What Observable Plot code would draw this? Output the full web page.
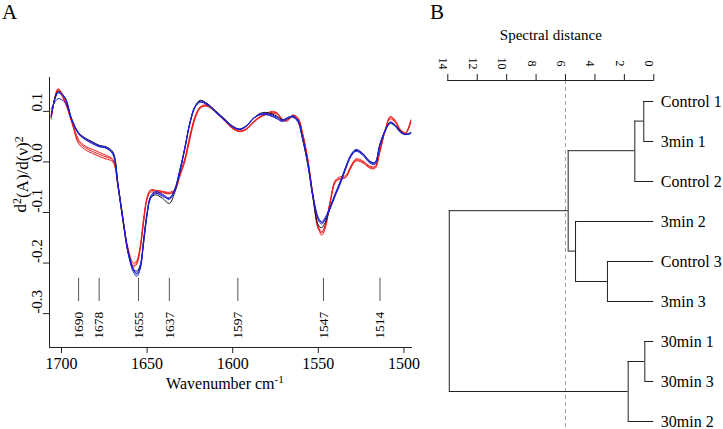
<!DOCTYPE html>
<html>
<head>
<meta charset="utf-8">
<script src="https://cdn.jsdelivr.net/npm/d3@7"></script>
<script src="https://cdn.jsdelivr.net/npm/@observablehq/plot@0.6"></script>
<style>
  html, body { margin: 0; padding: 0; background: #fff; }
  #wrap { position: relative; width: 723px; height: 429px; overflow: hidden; font-family: "Liberation Serif", "Times New Roman", serif; }
  .panel { position: absolute; top: 0; }
  .tag { position: absolute; top: 0px; font-size: 21px; line-height: 24px; color: #000; }
  svg { overflow: visible; }
</style>
</head>
<body>
<div id="wrap">
  <div id="pa" class="panel" style="left:0px"></div>
  <div id="pb" class="panel" style="left:425px"></div>
  <div class="tag" style="left:2px">A</div>
  <div class="tag" style="left:430px">B</div>
</div>
<script>
// ---------- Panel A data ----------
const wavenumbers = [1706,1702,1698,1694,1690,1686,1682,1678,1674,1670,1667,1664,1661,1658,1656,1654,1652,1650,1648,1645,1641,1637,1634,1631,1628,1625,1622,1619,1615,1610,1605,1600,1596,1592,1588,1584,1581,1577,1574,1571,1568,1565,1562,1559,1556,1553,1550,1548,1546,1543,1540,1537,1534,1531,1528,1524,1520,1517,1514,1511,1508,1505,1502,1499,1496];

const red1 = [0.088,0.143,0.120,0.080,0.036, 0.024,0.017,0.011,0.006,0.000, -0.050,-0.120,-0.180,-0.205,-0.198, -0.170,-0.115,-0.072,-0.057,-0.057, -0.059,-0.062,-0.058,-0.030,0.000, 0.045,0.085,0.106,0.112,0.100, 0.083,0.066,0.060,0.064,0.077, 0.088,0.093,0.098,0.096,0.083, 0.081,0.092,0.088,0.055,0.003, -0.068,-0.130,-0.145,-0.132,-0.080, -0.040,-0.032,-0.030,-0.012,0.002, -0.002,-0.012,-0.013,0.020,0.062, 0.088,0.080,0.062,0.057,0.082];
const red2 = [0.092,0.140,0.118,0.078,0.040, 0.028,0.021,0.015,0.010,0.003, -0.048,-0.118,-0.178,-0.208,-0.202, -0.172,-0.118,-0.073,-0.060,-0.060, -0.061,-0.063,-0.057,-0.026,0.004, 0.050,0.088,0.107,0.110,0.098, 0.082,0.066,0.061,0.066,0.079, 0.090,0.094,0.096,0.094,0.082, 0.083,0.090,0.085,0.050,-0.002, -0.072,-0.133,-0.140,-0.126,-0.076, -0.038,-0.034,-0.031,-0.010,0.004, 0.000,-0.010,-0.011,0.024,0.064, 0.085,0.078,0.061,0.056,0.078];
const red3 = [0.085,0.145,0.122,0.082,0.044, 0.031,0.025,0.019,0.013,0.005, -0.046,-0.116,-0.172,-0.200,-0.195, -0.165,-0.110,-0.070,-0.055,-0.056, -0.058,-0.060,-0.055,-0.024,0.006, 0.052,0.090,0.109,0.113,0.101, 0.084,0.067,0.061,0.065,0.079, 0.089,0.095,0.100,0.097,0.085, 0.083,0.093,0.086,0.052,0.001, -0.070,-0.128,-0.138,-0.125,-0.078, -0.036,-0.029,-0.027,-0.008,0.006, 0.002,-0.008,-0.009,0.022,0.061, 0.090,0.082,0.064,0.058,0.083];
const black1 = [0.090,0.140,0.127,0.085,0.058, 0.047,0.040,0.033,0.030,0.020, -0.043,-0.113,-0.178,-0.212,-0.216, -0.204,-0.152,-0.100,-0.072,-0.065, -0.072,-0.082,-0.062,-0.022,0.026, 0.078,0.110,0.122,0.116,0.101, 0.086,0.071,0.065,0.071,0.086, 0.096,0.098,0.095,0.090,0.084, 0.086,0.089,0.080,0.042,-0.008, -0.075,-0.125,-0.130,-0.120,-0.090, -0.062,-0.038,-0.010,0.013,0.023, 0.016,0.001,-0.002,0.034,0.062, 0.079,0.073,0.061,0.055,0.058];
const blue1 = [0.090,0.138,0.128,0.082,0.056, 0.045,0.039,0.032,0.029,0.018, -0.045,-0.115,-0.178,-0.212,-0.222, -0.208,-0.155,-0.102,-0.070,-0.061, -0.066,-0.074,-0.058,-0.020,0.025, 0.075,0.108,0.120,0.115,0.100, 0.085,0.070,0.064,0.070,0.085, 0.095,0.096,0.093,0.088,0.083, 0.087,0.090,0.082,0.045,-0.005, -0.070,-0.115,-0.123,-0.115,-0.090, -0.065,-0.040,-0.012,0.012,0.023, 0.015,0.000,-0.003,0.035,0.062, 0.078,0.072,0.060,0.055,0.058];
const blue2 = [0.105,0.125,0.118,0.084,0.057, 0.046,0.038,0.031,0.028,0.016, -0.047,-0.117,-0.182,-0.218,-0.226, -0.212,-0.160,-0.106,-0.072,-0.062, -0.068,-0.072,-0.055,-0.018,0.027, 0.077,0.108,0.118,0.113,0.098, 0.083,0.069,0.064,0.071,0.086, 0.093,0.094,0.091,0.086,0.081, 0.088,0.089,0.080,0.042,-0.008, -0.072,-0.112,-0.118,-0.110,-0.087, -0.062,-0.037,-0.010,0.014,0.025, 0.017,0.002,-0.001,0.036,0.062, 0.076,0.070,0.058,0.054,0.056];
const blue3 = [0.092,0.136,0.126,0.084,0.055, 0.044,0.036,0.030,0.027,0.015, -0.048,-0.118,-0.182,-0.214,-0.220, -0.205,-0.158,-0.102,-0.068,-0.058, -0.064,-0.071,-0.056,-0.018,0.028, 0.078,0.110,0.119,0.114,0.099, 0.084,0.069,0.065,0.072,0.086, 0.094,0.094,0.090,0.085,0.080, 0.085,0.091,0.083,0.046,-0.004, -0.068,-0.110,-0.120,-0.113,-0.092, -0.066,-0.042,-0.014,0.010,0.021, 0.013,-0.002,-0.005,0.032,0.060, 0.077,0.071,0.059,0.054,0.057];

const seriesNames  = ["red1","red2","red3","black1","blue1","blue2","blue3"];
const seriesValues = [red1, red2, red3, black1, blue1, blue2, blue3];
const seriesColors = ["#ee1a1a","#ee1a1a","#ee1a1a","#111111","#1f1fd0","#1f1fd0","#1f1fd0"];

const xTicksA = [1700,1650,1600,1550,1500];
const yTicksA = [0.1,0.0,-0.1,-0.2,-0.3];
const xDomainA = [1707,1495];
const yDomainA = [-0.367,0.167];
const peaks = [1690,1678,1655,1637,1597,1547,1514];
const peakTickTop = [-0.230];
const peakTickBottom = [-0.276];
const peakLabelLevel = [-0.323];
const xLabelA = "Wavenumber cm-1";
const yLabelA = "d2(A)/d(ν)2";

// ---------- Panel B data ----------
const leafLabels = ["Control 1","3min 1","Control 2","3min 2","Control 3","3min 3","30min 1","30min 3","30min 2"];
// hclust-style merges: negative = leaf (1-based order position), positive = earlier merge row
const mergeA = [-1, 1, -5, -4, 2, -7, 6, 5];
const mergeB = [-2, -3, -6, 3, 4, -8, -9, 7];
const mergeHeight = [0.68, 1.29, 3.15, 5.32, 5.82, 0.61, 1.74, 13.9];
const mergePosition = [0.49, 1.23, 4.5, 3.74, 2.73, 6.5, 7.25, 4.9];
const distTicks = [14,12,10,8,6,4,2,0];
const cutHeight = [6];
const yDomainB = [-0.525, 8.2];
const distTitle = "Spectral distance";

const FONT = '"Liberation Serif","Times New Roman",serif';

// ----- Panel A -----
const rows = [];
seriesNames.forEach((s, k) => seriesValues[k].forEach((v, i) => rows.push({series: s, wn: wavenumbers[i], val: v, color: seriesColors[k]})));

const lineMarks = seriesNames.map((s, k) =>
  Plot.line(rows.filter(r => r.series === s), {x: "wn", y: "val", stroke: seriesColors[k], strokeWidth: 1, curve: "catmull-rom"})
);

const plotA = Plot.plot({
  width: 425, height: 429,
  marginLeft: 49, marginRight: 13, marginTop: 77, marginBottom: 82,
  style: {fontFamily: FONT, fontSize: "15px", color: "#000", background: "transparent"},
  x: {domain: xDomainA, label: null},
  y: {domain: yDomainA, label: null},
  marks: [
    Plot.ruleX([xDomainA[0]], {stroke: "#222"}),
    Plot.ruleY([yDomainA[0]], {stroke: "#222"}),
    Plot.axisX({ticks: xTicksA, tickSize: 6, tickPadding: 4, fontSize: 16, tickFormat: d => String(d), label: null, stroke: "#222"}),
    Plot.axisY({ticks: yTicksA, tickSize: 6, tickFormat: () => "", label: null, stroke: "#222"}),
    Plot.text(yTicksA, {y: d => d, frameAnchor: "left", dx: -12, rotate: -90, text: d => d.toFixed(1), fontSize: 15}),
    Plot.ruleX(peaks, {x: d => d, y1: () => peakTickTop[0], y2: () => peakTickBottom[0], stroke: "#555"}),
    Plot.text(peaks, {x: d => d, y: () => peakLabelLevel[0], rotate: -90, text: d => String(d), fontSize: 13.5}),
    ...lineMarks,
    Plot.text([yLabelA], {frameAnchor: "left", dx: -29, rotate: -90, text: d => d, fontSize: 17}),
    Plot.text([xLabelA], {frameAnchor: "bottom", dy: 41, dx: -6, text: d => d, fontSize: 16})
  ]
});
document.getElementById("pa").appendChild(plotA);

// superscripts
plotA.querySelectorAll("text").forEach(t => {
  if (t.textContent === xLabelA) {
    t.innerHTML = 'Wavenumber cm<tspan dy="-0.45em" font-size="0.7em">-1</tspan>';
  } else if (t.textContent === yLabelA) {
    t.innerHTML = 'd<tspan dy="-0.45em" font-size="0.7em">2</tspan><tspan dy="0.45em">(A)/d(ν)</tspan><tspan dy="-0.45em" font-size="0.7em">2</tspan>';
  }
});

// ----- Panel B -----
function nodeInfo(code) {
  if (code < 0) return {h: 0, p: -code - 1};
  return {h: mergeHeight[code - 1], p: mergePosition[code - 1]};
}
const vertSegs = [], horizSegs = [];
mergeA.forEach((a, j) => {
  const b = mergeB[j];
  const A = nodeInfo(a), B = nodeInfo(b);
  const h = mergeHeight[j];
  vertSegs.push({h, p1: A.p, p2: B.p});
  horizSegs.push({p: A.p, h1: A.h, h2: h});
  horizSegs.push({p: B.p, h1: B.h, h2: h});
});

const plotB = Plot.plot({
  width: 298, height: 429,
  marginLeft: 22.3, marginRight: 69.7, marginTop: 80, marginBottom: 0,
  style: {fontFamily: FONT, fontSize: "15px", color: "#000", background: "transparent"},
  x: {domain: [d3.max(distTicks), d3.min(distTicks)], label: null},
  y: {domain: yDomainB, reverse: true, axis: null, label: null},
  marks: [
    Plot.ruleX(cutHeight, {stroke: "#a0a0a0", strokeDasharray: "4,3"}),
    Plot.ruleY([yDomainB[0]], {x1: () => d3.max(distTicks), x2: () => d3.min(distTicks), stroke: "#222"}),
    Plot.axisX({anchor: "top", ticks: distTicks, tickSize: 7, tickFormat: () => "", label: null, stroke: "#222"}),
    Plot.text(distTicks, {x: d => d, frameAnchor: "top", dy: -17, rotate: 90, text: d => String(d), fontSize: 12}),
    Plot.text([distTitle], {x: () => (d3.max(distTicks) + d3.min(distTicks)) / 2, frameAnchor: "top", dy: -51, text: d => d, fontSize: 15}),
    Plot.ruleX(vertSegs, {x: "h", y1: "p1", y2: "p2", stroke: "#222"}),
    Plot.ruleY(horizSegs, {y: "p", x1: "h1", x2: "h2", stroke: "#222"}),
    Plot.text(leafLabels, {x: () => 0, y: (d, i) => i, dx: 7, textAnchor: "start", text: d => d, fontSize: 16})
  ]
});
document.getElementById("pb").appendChild(plotB);
</script>
</body>
</html>
